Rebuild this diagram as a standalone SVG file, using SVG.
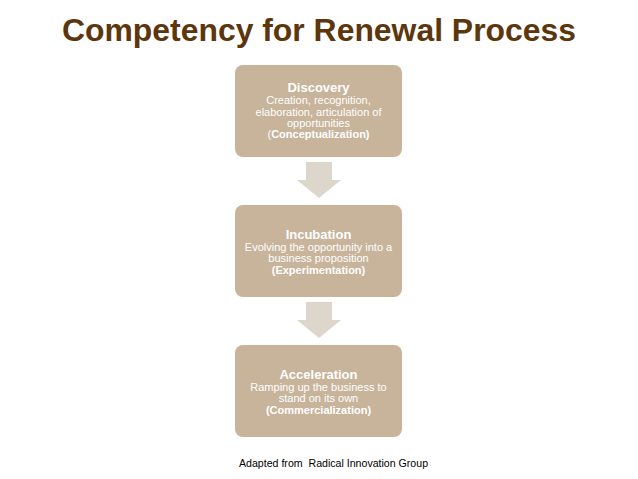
<svg xmlns="http://www.w3.org/2000/svg" width="638" height="479" viewBox="0 0 638 479">
<style>
.box{fill:#c7b49b;}
.arrow{fill:#ddd6ca;}
.t{font-family:"Liberation Sans",Arial,sans-serif;fill:#ffffff;text-anchor:middle;}
.h{font-size:13px;font-weight:bold;}
.b{font-size:11px;}
.bb{font-size:11px;font-weight:bold;}
</style>
<rect width="638" height="479" fill="#ffffff"/>
<text x="319" y="41" font-family="'Liberation Sans',Arial,sans-serif" font-size="31.9" font-weight="bold" fill="#5c360d" text-anchor="middle">Competency for Renewal Process</text>
<g id="connectors">
<polygon class="arrow" points="306,162 332,162 332,180 341,180 319,198 297,180 306,180"/>
<polygon class="arrow" points="306,302 332,302 332,320 341,320 319,338 297,320 306,320"/>
</g>
<g id="discovery">
<rect class="box" x="235" y="65" width="167" height="92" rx="8"/>
<text class="t h" x="318.5" y="92">Discovery</text>
<text class="t b" x="318.5" y="104">Creation, recognition,</text>
<text class="t b" x="318.5" y="116">elaboration, articulation of</text>
<text class="t b" x="318.5" y="127">opportunities</text>
<text class="t b" x="318.5" y="138">(<tspan font-weight="bold">Conceptualization)</tspan></text>
</g>
<g id="incubation">
<rect class="box" x="235" y="205" width="167" height="92" rx="8"/>
<text class="t h" x="318.5" y="239">Incubation</text>
<text class="t b" x="318.5" y="251">Evolving the opportunity into a</text>
<text class="t b" x="318.5" y="262">business proposition</text>
<text class="t bb" x="318.5" y="274">(Experimentation)</text>
</g>
<g id="acceleration">
<rect class="box" x="235" y="345" width="167" height="92" rx="8"/>
<text class="t h" x="318.5" y="379">Acceleration</text>
<text class="t b" x="318.5" y="391">Ramping up the business to</text>
<text class="t b" x="318.5" y="402">stand on its own</text>
<text class="t bb" x="318.5" y="414">(Commercialization)</text>
</g>
<text x="239" y="467" font-family="'Liberation Sans',Arial,sans-serif" font-size="10.6" fill="#000000" xml:space="preserve">Adapted from  Radical Innovation Group</text>
</svg>
